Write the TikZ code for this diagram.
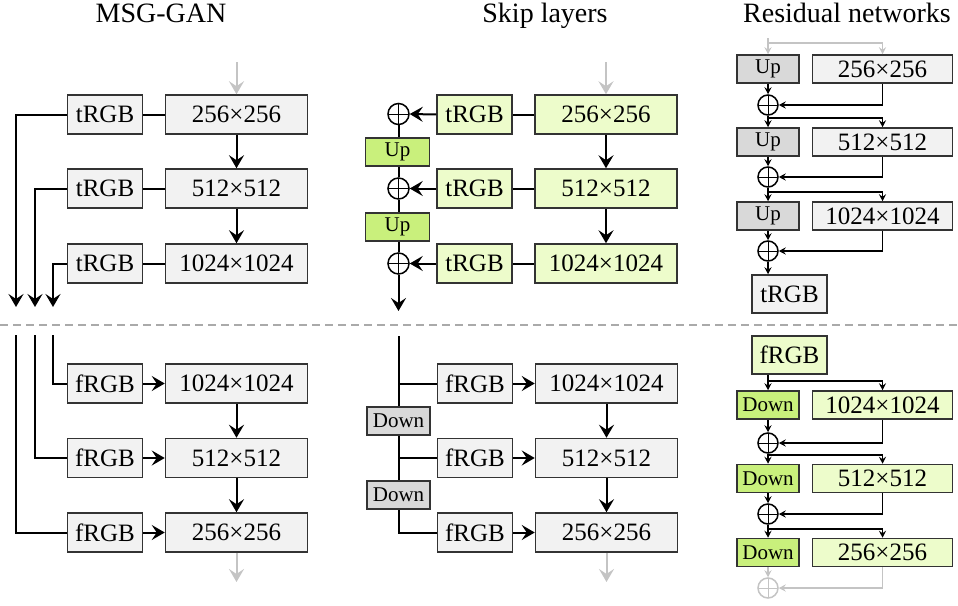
\documentclass[tikz,border=0pt]{standalone}
\usepackage{fontspec}
\setmainfont{Liberation Serif}
\usetikzlibrary{arrows.meta}
\definecolor{boxgray}{HTML}{F2F2F2}
\definecolor{opgray}{HTML}{D9D9D9}
\definecolor{palegreen}{HTML}{EDFCCB}
\definecolor{opgreen}{HTML}{C9F07C}
\definecolor{edge}{HTML}{333333}
\definecolor{faint}{HTML}{C4C4C4}
\definecolor{dashgray}{HTML}{AAAAAA}
\tikzset{
  box/.style={draw=edge, line width=1.5pt, inner sep=0pt, font=\fontsize{25}{25}\selectfont},
  rgbbox/.style={box, minimum width=75pt, minimum height=39pt},
  resbox/.style={box, minimum width=142pt, minimum height=39pt},
  rresbox/.style={box, minimum width=140pt, minimum height=28pt},
  opbox/.style={box, minimum width=62pt, minimum height=28pt, font=\fontsize{21}{21}\selectfont},
  sumnode/.style={circle, draw=#1, fill=white, line width=1.5pt, minimum size=20pt, inner sep=0pt,
    path picture={\draw[#1, line width=1pt]
      (path picture bounding box.north) -- (path picture bounding box.south)
      (path picture bounding box.west) -- (path picture bounding box.east);}},
  sumnode/.default=black,
  link/.style={line width=2pt},
  arr/.style={link, -{Stealth[length=13pt, width=15pt, inset=5pt]}},
  garr/.style={arr, faint},
  slink/.style={line width=1.5pt},
  sarr/.style={slink, -{Stealth[length=7pt, width=7pt, inset=2.5pt]}},
  gsarr/.style={sarr, faint},
  title/.style={anchor=base, font=\fontsize{28}{28}\selectfont},
}
\begin{document}
\begin{tikzpicture}[x=1pt, y=-1pt]
\useasboundingbox (0,0) rectangle (958,605);

% column titles
\node[title] (h1) at (161,23) {MSG-GAN};
\node[title] (h2) at (545,23) {Skip layers};
\node[title] (h3) at (847,23) {Residual networks};

% separator between generator and discriminator
\coordinate (sepL) at (0,325);
\coordinate (sepR) at (958,325);
\draw[dashgray, line width=2pt, dash pattern=on 8pt off 5pt] (sepL) -- (sepR);

% ---------------- MSG-GAN: generator ----------------
\node[rgbbox, fill=boxgray] (mt1) at (105,114.5) {tRGB};
\node[rgbbox, fill=boxgray] (mt2) at (105,188.5) {tRGB};
\node[rgbbox, fill=boxgray] (mt3) at (105,263.5) {tRGB};
\node[resbox, fill=boxgray] (mr1) at (236.5,114.5) {256×256};
\node[resbox, fill=boxgray] (mr2) at (236.5,188.5) {512×512};
\node[resbox, fill=boxgray] (mr3) at (236.5,263.5) {1024×1024};
\coordinate (mg0) at (236.5,62);
\coordinate (mo1) at (16,307);
\coordinate (mo2) at (35,307);
\coordinate (mo3) at (53,307);
\draw[garr] (mg0) -- (mr1.north);
\draw[arr] (mr1.south) -- (mr2.north);
\draw[arr] (mr2.south) -- (mr3.north);
\draw[link] (mr1.west) -- (mt1.east);
\draw[link] (mr2.west) -- (mt2.east);
\draw[link] (mr3.west) -- (mt3.east);
\draw[arr] (mt1.west) -| (mo1);
\draw[arr] (mt2.west) -| (mo2);
\draw[arr] (mt3.west) -| (mo3);

% ---------------- MSG-GAN: discriminator ----------------
\node[rgbbox, fill=boxgray] (mf1) at (105,383.5) {fRGB};
\node[rgbbox, fill=boxgray] (mf2) at (105,458) {fRGB};
\node[rgbbox, fill=boxgray] (mf3) at (105,532.5) {fRGB};
\node[resbox, fill=boxgray] (md1) at (236.5,383.5) {1024×1024};
\node[resbox, fill=boxgray] (md2) at (236.5,458) {512×512};
\node[resbox, fill=boxgray] (md3) at (236.5,532.5) {256×256};
\coordinate (mi1) at (53,335);
\coordinate (mi2) at (35,335);
\coordinate (mi3) at (16,335);
\coordinate (mge) at (236.5,582);
\draw[link] (mi1) |- (mf1.west);
\draw[link] (mi2) |- (mf2.west);
\draw[link] (mi3) |- (mf3.west);
\draw[arr] (mf1.east) -- (md1.west);
\draw[arr] (mf2.east) -- (md2.west);
\draw[arr] (mf3.east) -- (md3.west);
\draw[arr] (md1.south) -- (md2.north);
\draw[arr] (md2.south) -- (md3.north);
\draw[garr] (md3.south) -- (mge);

% ---------------- Skip layers: generator ----------------
\node[rgbbox, fill=palegreen] (st1) at (474.5,114.5) {tRGB};
\node[rgbbox, fill=palegreen] (st2) at (474.5,188.5) {tRGB};
\node[rgbbox, fill=palegreen] (st3) at (474.5,263.5) {tRGB};
\node[resbox, fill=palegreen] (sr1) at (606,114.5) {256×256};
\node[resbox, fill=palegreen] (sr2) at (606,188.5) {512×512};
\node[resbox, fill=palegreen] (sr3) at (606,263.5) {1024×1024};
\node[sumnode, minimum size=21pt] (sc1) at (398.5,114) {};
\node[sumnode, minimum size=21pt] (sc2) at (398.5,188.5) {};
\node[sumnode, minimum size=21pt] (sc3) at (398.5,263.5) {};
\node[opbox, fill=opgreen, minimum width=64pt] (su1) at (397.5,152) {Up};
\node[opbox, fill=opgreen, minimum width=64pt] (su2) at (397.5,227) {Up};
\coordinate (sg0) at (606,62);
\coordinate (so) at (398.5,311);
\draw[garr] (sg0) -- (sr1.north);
\draw[arr] (sr1.south) -- (sr2.north);
\draw[arr] (sr2.south) -- (sr3.north);
\draw[link] (sr1.west) -- (st1.east);
\draw[link] (sr2.west) -- (st2.east);
\draw[link] (sr3.west) -- (st3.east);
\draw[arr] (st1.west) -- (sc1.east);
\draw[arr] (st2.west) -- (sc2.east);
\draw[arr] (st3.west) -- (sc3.east);
\draw[link] (sc1.south) -- (sc1.south |- su1.north);
\draw[link] (sc2.north |- su1.south) -- (sc2.north);
\draw[link] (sc2.south) -- (sc2.south |- su2.north);
\draw[link] (sc3.north |- su2.south) -- (sc3.north);
\draw[arr] (sc3.south) -- (so);

% ---------------- Skip layers: discriminator ----------------
\node[rgbbox, fill=boxgray] (sf1) at (475,383.5) {fRGB};
\node[rgbbox, fill=boxgray] (sf2) at (475,458) {fRGB};
\node[rgbbox, fill=boxgray] (sf3) at (475,532.5) {fRGB};
\node[resbox, fill=boxgray] (sd1) at (606.5,383.5) {1024×1024};
\node[resbox, fill=boxgray] (sd2) at (606.5,458) {512×512};
\node[resbox, fill=boxgray] (sd3) at (606.5,532.5) {256×256};
\node[opbox, fill=opgray, minimum width=63pt] (sn1) at (398.5,421) {Down};
\node[opbox, fill=opgray, minimum width=63pt] (sn2) at (398.5,495) {Down};
\coordinate (si) at (398.5,336);
\coordinate (sge) at (606.5,582);
\draw[link] (si) -- (sn1.north);
\draw[link] (sf1.west) -- (sf1.west -| si);
\draw[link] (sn1.south) -- (sn2.north);
\draw[link] (sf2.west) -- (sf2.west -| si);
\draw[link] (sn2.south) |- (sf3.west);
\draw[arr] (sf1.east) -- (sd1.west);
\draw[arr] (sf2.east) -- (sd2.west);
\draw[arr] (sf3.east) -- (sd3.west);
\draw[arr] (sd1.south) -- (sd2.north);
\draw[arr] (sd2.south) -- (sd3.north);
\draw[garr] (sd3.south) -- (sge);

% ---------------- Residual networks: generator ----------------
\node[opbox, fill=opgray] (ru1) at (768,69) {Up};
\node[opbox, fill=opgray] (ru2) at (768,142) {Up};
\node[opbox, fill=opgray] (ru3) at (768,216) {Up};
\node[rresbox, fill=boxgray] (rr1) at (882.5,69) {256×256};
\node[rresbox, fill=boxgray] (rr2) at (882.5,142) {512×512};
\node[rresbox, fill=boxgray] (rr3) at (882.5,216) {1024×1024};
\node[sumnode] (rc1) at (768,105) {};
\node[sumnode] (rc2) at (768,177) {};
\node[sumnode] (rc3) at (768,251) {};
\node[rgbbox, fill=boxgray, minimum height=38pt] (rt) at (789.5,294) {tRGB};
\coordinate (rg0) at (768,38);
\coordinate (rg1) at (768,43);
\coordinate (rb2) at (768,118);
\coordinate (rb3) at (768,192);
\draw[gsarr] (rg0) -- (ru1.north);
\draw[gsarr] (rg1) -| (rr1.north);
\draw[sarr] (ru1.south) -- (rc1.north);
\draw[sarr] (rr1.south) |- (rc1.east);
\draw[sarr] (rc1.south) -- (ru2.north);
\draw[sarr] (rb2) -| (rr2.north);
\draw[sarr] (ru2.south) -- (rc2.north);
\draw[sarr] (rr2.south) |- (rc2.east);
\draw[sarr] (rc2.south) -- (ru3.north);
\draw[sarr] (rb3) -| (rr3.north);
\draw[sarr] (ru3.south) -- (rc3.north);
\draw[sarr] (rr3.south) |- (rc3.east);
\draw[sarr] (rc3.south) -- (rc3.south |- rt.north);

% ---------------- Residual networks: discriminator ----------------
\node[rgbbox, fill=palegreen, minimum height=38pt] (rf) at (789.5,355) {fRGB};
\node[opbox, fill=opgreen] (rd1) at (768,405) {Down};
\node[opbox, fill=opgreen] (rd2) at (768,478.5) {Down};
\node[opbox, fill=opgreen] (rd3) at (768,552.5) {Down};
\node[rresbox, fill=palegreen] (rs1) at (882.5,405) {1024×1024};
\node[rresbox, fill=palegreen] (rs2) at (882.5,478.5) {512×512};
\node[rresbox, fill=palegreen] (rs3) at (882.5,552.5) {256×256};
\node[sumnode] (rc4) at (768,443) {};
\node[sumnode] (rc5) at (768,514) {};
\node[sumnode=faint, draw=faint] (rc6) at (768,588) {};
\coordinate (rb4) at (768,381);
\coordinate (rb5) at (768,455);
\coordinate (rb6) at (768,529);
\draw[sarr] (rf.south -| rd1) -- (rd1.north);
\draw[sarr] (rb4) -| (rs1.north);
\draw[sarr] (rd1.south) -- (rc4.north);
\draw[sarr] (rs1.south) |- (rc4.east);
\draw[sarr] (rc4.south) -- (rd2.north);
\draw[sarr] (rb5) -| (rs2.north);
\draw[sarr] (rd2.south) -- (rc5.north);
\draw[sarr] (rs2.south) |- (rc5.east);
\draw[sarr] (rc5.south) -- (rd3.north);
\draw[sarr] (rb6) -| (rs3.north);
\draw[gsarr] (rd3.south) -- (rc6.north);
\draw[gsarr] (rs3.south) |- (rc6.east);
\end{tikzpicture}
\end{document}
